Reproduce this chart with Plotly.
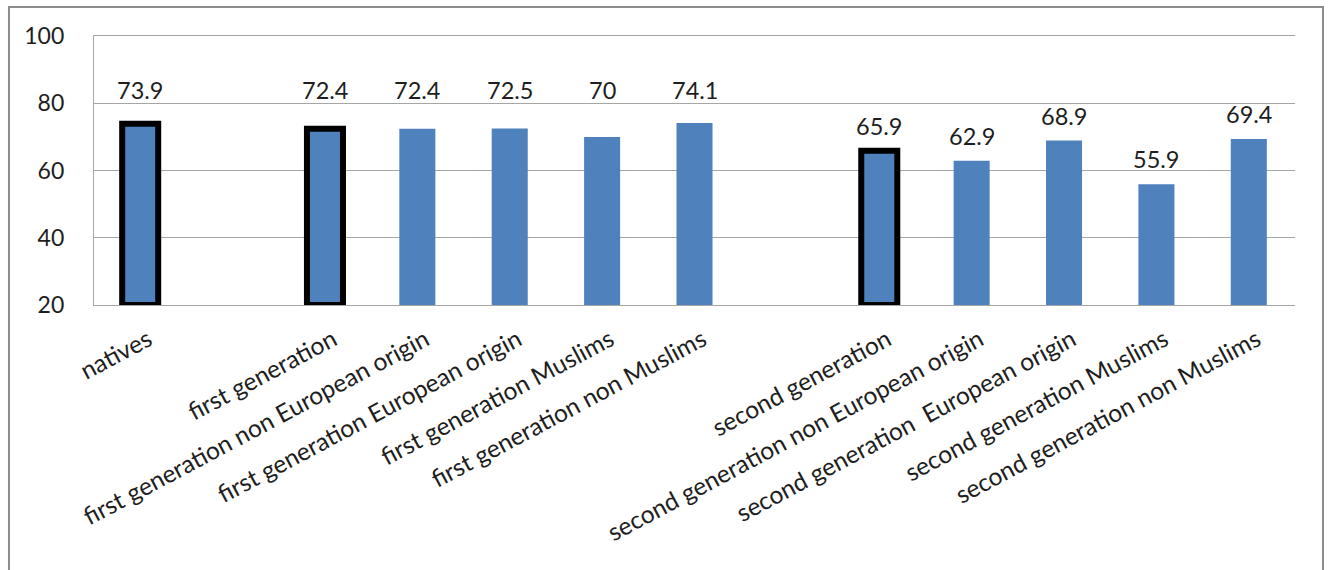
import plotly.graph_objects as go

categories = ["natives", " ", "first generation", "first generation non European origin",
              "first generation European origin", "first generation Muslims",
              "first generation non Muslims", "  ", "second generation",
              "second generation non European origin", "second generation  European origin",
              "second generation Muslims", "second generation non Muslims"]
values = [73.9, None, 72.4, 72.4, 72.5, 70, 74.1, None, 65.9, 62.9, 68.9, 55.9, 69.4]
highlighted = [True, False, True, False, False, False, False, False, True, False, False, False, False]
y_ticks = [20, 40, 60, 80, 100]

BLUE = "#4F81BD"
FONT = "Lato"
TXT = "#1e1e1e"

fig = go.Figure()
fig.add_trace(go.Bar(
    x=categories,
    y=[v - 20 if v is not None else None for v in values],
    base=20,
    marker=dict(color=BLUE,
                line=dict(color=["#000000" if h else BLUE for h in highlighted],
                          width=[6 if h else 0 for h in highlighted])),
    width=0.39,
    hoverinfo="skip",
))

for c, v in zip(categories, values):
    if v is None:
        continue
    # labels that would hit the 80 gridline are lifted above it (as in the original)
    ly = 76.5 if v >= 70 else v
    fig.add_annotation(x=c, y=ly, text=f"{v:g}", showarrow=False,
                       yanchor="middle", yshift=25,
                       font=dict(family=FONT, size=23.5, color=TXT))

fig.add_shape(type="rect", xref="paper", yref="paper",
              x0=-0.0708, x1=1.0233, y0=-1.01, y1=1.1078,
              line=dict(color="#8c8c8c", width=2), fillcolor="rgba(0,0,0,0)", layer="below")

fig.update_layout(
    width=1329, height=570,
    margin=dict(l=94, r=34, t=36, b=265),
    paper_bgcolor="white", plot_bgcolor="white",
    showlegend=False,
    xaxis=dict(type="category", tickangle=-28, showgrid=False, showline=True, mirror=True,
               linecolor="#a6a6a6", linewidth=1.3,
               ticks="", tickfont=dict(family=FONT, size=24.5, color=TXT),
               ticklabelstandoff=10, ticklabelshift=8),
    yaxis=dict(range=[20, 100], tickvals=y_ticks, showgrid=True, gridcolor="#a6a6a6",
               gridwidth=1.3, showline=True, linecolor="#a6a6a6", linewidth=1.3,
               zeroline=False, ticks="", ticklabelstandoff=24,
               tickfont=dict(family=FONT, size=23, color=TXT)),
)

fig.write_html("out.html")
